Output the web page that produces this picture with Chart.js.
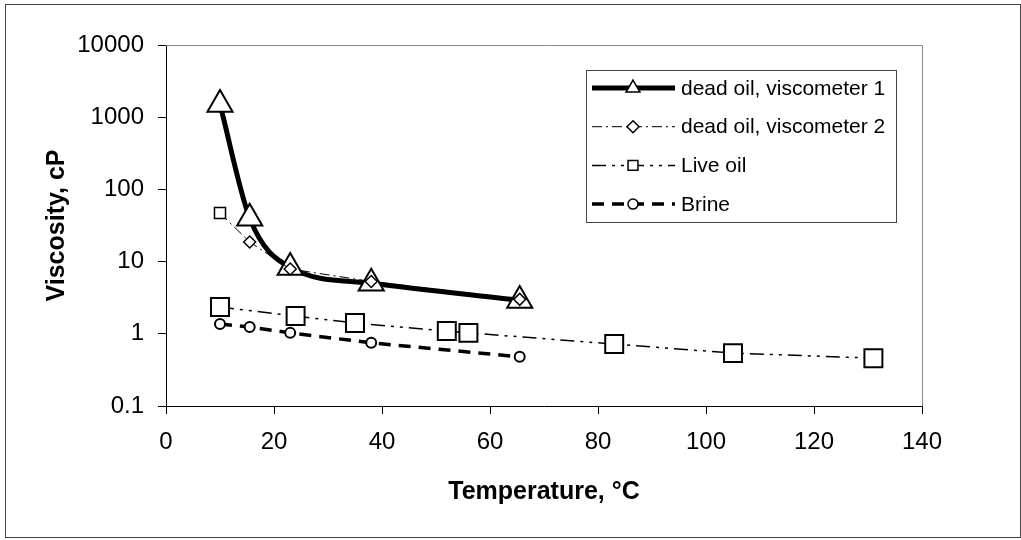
<!DOCTYPE html>
<html>
<head>
<meta charset="utf-8">
<title>Viscosity vs temperature</title>
<script src="https://cdn.jsdelivr.net/npm/chart.js"></script>
<style>
  html, body { margin: 0; padding: 0; background: #fff; }
  #wrap { position: relative; width: 1021px; height: 540px; }
</style>
</head>
<body>
<div id="wrap"><canvas id="visc"></canvas></div>
<script>
// values: temperature in degC, viscosity in cP
const seriesNames = ['dead oil, viscometer 1', 'dead oil, viscometer 2', 'Live oil', 'Brine'];

const deadOil1Temp = [10, 15.5, 23, 38, 65.5];
const deadOil1Visc = [1500, 40, 8.3, 5.0, 2.9];

const deadOil2Temp = [10, 15.5, 23, 38, 65.5];
const deadOil2Visc = [47, 18.7, 7.9, 5.3, 3.0];

const liveOilTemp = [10, 24, 35, 52, 56, 83, 105, 131];
const liveOilVisc = [2.35, 1.76, 1.41, 1.09, 1.03, 0.72, 0.54, 0.46];

const brineTemp = [10, 15.5, 23, 38, 65.5];
const brineVisc = [1.37, 1.24, 1.03, 0.75, 0.48];

const xTicks = [0, 20, 40, 60, 80, 100, 120, 140];
const yTicks = [0.1, 1, 10, 100, 1000, 10000];

const FONT = '"Liberation Sans", Arial, Helvetica, sans-serif';

function pts(xs, ys) {
    return xs.map((x, i) => ({x: x, y: ys[i]}));
}

// marker drawing for the legend box (same shapes chart.js uses)
function marker(ctx, style, x, y, r) {
    ctx.beginPath();
    if (style === 'triangle') {
        let a = 0;
        for (let k = 0; k < 3; k++) {
            const px = x + Math.sin(a) * r, py = y - Math.cos(a) * r;
            if (k === 0) ctx.moveTo(px, py); else ctx.lineTo(px, py);
            a += 2 * Math.PI / 3;
        }
    } else if (style === 'rectRot') {
        ctx.moveTo(x - r, y); ctx.lineTo(x, y - r); ctx.lineTo(x + r, y); ctx.lineTo(x, y + r);
    } else if (style === 'rect') {
        const s = r * Math.SQRT1_2;
        ctx.rect(x - s, y - s, 2 * s, 2 * s);
    } else {
        ctx.arc(x, y, r, 0, Math.PI * 2);
    }
    ctx.closePath();
    ctx.fill();
    ctx.stroke();
}

const framePlugin = {
    id: 'frame',
    beforeDraw(chart) {
        const c = chart.ctx;
        c.save();
        c.fillStyle = '#fff';
        c.fillRect(0, 0, chart.width, chart.height);
        c.strokeStyle = '#444';
        c.lineWidth = 1;
        c.strokeRect(5.5, 4.5, 1015, 533);
        c.restore();
    },
    beforeDatasetsDraw(chart) {
        // thin grey top / right edges of the plot area
        const a = chart.chartArea, c = chart.ctx;
        c.save();
        c.strokeStyle = '#888';
        c.lineWidth = 1;
        c.beginPath();
        c.moveTo(a.left, a.top + 0.5);
        c.lineTo(a.right + 0.5, a.top + 0.5);
        c.lineTo(a.right + 0.5, a.bottom);
        c.stroke();
        c.restore();
    }
};

const legendPlugin = {
    id: 'boxLegend',
    afterDraw(chart) {
        const c = chart.ctx;
        const sizes = [8, 6, 7, 5];
        c.save();
        c.fillStyle = '#fff';
        c.fillRect(586, 70, 310, 152);
        c.strokeStyle = '#444';
        c.lineWidth = 1;
        c.strokeRect(586.5, 70.5, 310, 152);
        chart.data.datasets.forEach((ds, i) => {
            const y = 88 + i * 38.7;
            c.strokeStyle = '#000';
            c.lineWidth = ds.borderWidth;
            c.setLineDash(ds.borderDash || []);
            c.beginPath();
            c.moveTo(592, y);
            c.lineTo(675, y);
            c.stroke();
            c.setLineDash([]);
            c.fillStyle = '#fff';
            c.lineWidth = 1.5;
            const st = Array.isArray(ds.pointStyle) ? ds.pointStyle[1] : ds.pointStyle;
            marker(c, st, 633, y, sizes[i]);
            c.fillStyle = '#000';
            c.font = '21px ' + FONT;
            c.textBaseline = 'middle';
            c.textAlign = 'left';
            c.fillText(seriesNames[i], 681, y + 1);
        });
        c.restore();
    }
};

new Chart(document.getElementById('visc'), {
    type: 'line',
    data: {
        datasets: [
            {
                label: seriesNames[0],
                data: pts(deadOil1Temp, deadOil1Visc),
                borderColor: '#000',
                borderWidth: 5,
                cubicInterpolationMode: 'monotone',
                pointStyle: 'triangle',
                pointRadius: 14.5,
                pointBorderWidth: 2,
                pointBackgroundColor: '#fff',
                pointBorderColor: '#000',
                order: 4
            },
            {
                label: seriesNames[1],
                data: pts(deadOil2Temp, deadOil2Visc),
                borderColor: '#000',
                borderWidth: 1,
                borderDash: [10, 4, 2, 4],
                tension: 0,
                pointStyle: ['rect', 'rectRot', 'rectRot', 'rectRot', 'rectRot'],
                pointRadius: [7.8, 6, 6, 6, 6],
                pointBorderWidth: 1.5,
                pointBackgroundColor: '#fff',
                pointBorderColor: '#000',
                order: 3
            },
            {
                label: seriesNames[2],
                data: pts(liveOilTemp, liveOilVisc),
                borderColor: '#000',
                borderWidth: 1.5,
                borderDash: [14, 6, 3, 6, 3, 6],
                tension: 0,
                pointStyle: 'rect',
                pointRadius: 12.7,
                pointBorderWidth: 2,
                pointBackgroundColor: '#fff',
                pointBorderColor: '#000',
                order: 2
            },
            {
                label: seriesNames[3],
                data: pts(brineTemp, brineVisc),
                borderColor: '#000',
                borderWidth: 3.5,
                borderDash: [12, 8],
                tension: 0,
                pointStyle: 'circle',
                pointRadius: 5,
                pointBorderWidth: 2,
                pointBackgroundColor: '#fff',
                pointBorderColor: '#000',
                order: 1
            }
        ]
    },
    options: {
        responsive: true,
        maintainAspectRatio: false,
        animation: false,
        layout: { padding: { left: 10, top: 45, right: 99, bottom: 10 } },
        plugins: {
            legend: { display: false },
            tooltip: { enabled: false }
        },
        scales: {
            x: {
                type: 'linear',
                min: 0,
                max: 140,
                afterBuildTicks: s => { s.ticks = xTicks.map(v => ({value: v})); },
                afterFit: s => { s.height = 124; },
                ticks: {
                    color: '#000',
                    font: { family: FONT, size: 24 },
                    padding: 14,
                    maxRotation: 0
                },
                grid: { drawOnChartArea: false, drawTicks: true, tickLength: 8, color: '#000' },
                border: { color: '#000', width: 1 },
                title: {
                    display: true,
                    text: 'Temperature, °C',
                    color: '#000',
                    font: { family: FONT, size: 25, weight: 'bold' },
                    padding: { top: 0, bottom: 23 }
                }
            },
            y: {
                type: 'logarithmic',
                min: 0.1,
                max: 10000,
                afterBuildTicks: s => { s.ticks = yTicks.map(v => ({value: v})); },
                afterFit: s => { s.width = 156; },
                ticks: {
                    color: '#000',
                    font: { family: FONT, size: 24 },
                    padding: 14,
                    callback: v => String(v)
                },
                grid: { drawOnChartArea: false, drawTicks: true, tickLength: 8, color: '#000' },
                border: { color: '#000', width: 1 },
                title: {
                    display: true,
                    text: 'Viscosity, cP',
                    color: '#000',
                    font: { family: FONT, size: 25, weight: 'bold' },
                    padding: { top: 32, bottom: 0 }
                }
            }
        }
    },
    plugins: [framePlugin, legendPlugin]
});
</script>
</body>
</html>
